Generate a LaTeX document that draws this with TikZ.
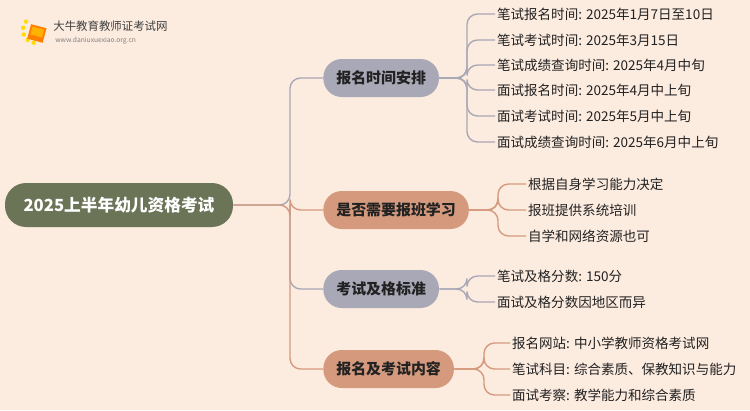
\documentclass[tikz,border=0pt]{standalone}
\usepackage{fontspec}
\setmainfont{Noto Sans CJK SC}
\usetikzlibrary{positioning,calc}
\definecolor{bgc}{HTML}{FCEBDF}
\definecolor{rootc}{HTML}{6B7457}
\definecolor{grayc}{HTML}{A9A8B6}
\definecolor{salc}{HTML}{D59A7E}
\definecolor{txtc}{HTML}{222222}
\begin{document}
\begin{tikzpicture}[x=0.02cm,y=-0.02cm,
  root/.style={rounded corners=12pt,fill=rootc,text=white,font=\fontsize{9.5pt}{11pt}\selectfont\bfseries,minimum width=228*0.02cm,minimum height=44*0.02cm},
  topic/.style={anchor=west,rounded corners=10.5pt,text=txtc,font=\fontsize{8.5pt}{10pt}\selectfont\bfseries,minimum height=38*0.02cm,inner xsep=7.4pt},
  leaf/.style={anchor=west,text=txtc,font=\fontsize{7.7pt}{9pt}\selectfont,inner xsep=1pt},
  link/.style={line width=0.8pt,rounded corners=6pt}]
\fill[bgc] (0,0) rectangle (750,410);
\useasboundingbox (0,0) rectangle (750,410);
% logo
\foreach \a in {100,130,160,190,220}
  \fill[yellow!80!orange] ($(36,30)+(\a:13)$) circle (2.2);
\fill[orange,rotate around={-15:(37,33)}] (29,26) rectangle (45,41);
\fill[orange!60!yellow,rotate around={-15:(37,33)}] (31,28) rectangle (43,36);
\node[anchor=west,font=\fontsize{6.5pt}{7pt}\selectfont,text=black!75,inner sep=0] (logo) at (53,26) {大牛教育教师证考试网};
\node[anchor=west,font=\fontsize{3.8pt}{5pt}\selectfont,text=black!50,inner sep=0] (url) at (55,41) {www.daniuxuexiao.org.cn};
% root and topics
\node[root] (root) at (119,205) {2025上半年幼儿资格考试};
\node[topic,fill=grayc] (t1) at (323,78) {报名时间安排};
\node[topic,fill=salc] (t2) at (323,210) {是否需要报班学习};
\node[topic,fill=grayc] (t3) at (323,289) {考试及格标准};
\node[topic,fill=salc] (t4) at (323,369) {报名及考试内容};
\coordinate (trunk) at (290,205);
\draw[link,draw=grayc] (root.east) -- (trunk) -- (290,78) -- (t1.west);
\draw[link,draw=salc] (root.east) -- (trunk) |- (t2.west);
\draw[link,draw=grayc] (trunk) -- (290,289) -- (t3.west);
\draw[link,draw=salc] (trunk) -- (290,369) -- (t4.west);
% leaves
\foreach \y/\t [count=\i] in {14/笔试报名时间: 2025年1月7日至10日,40/笔试考试时间: 2025年3月15日,
  65/笔试成绩查询时间: 2025年4月中旬,90/面试报名时间: 2025年4月中上旬,
  116/面试考试时间: 2025年5月中上旬,142/面试成绩查询时间: 2025年6月中上旬}{
  \node[leaf] (a\i) at (495,\y) {\t};
  \draw[link,draw=grayc] (t1.east) -- (467,78) |- (a\i.west);}
\foreach \y/\t [count=\i] in {184/根据自身学习能力决定,210/报班提供系统培训,236/自学和网络资源也可}{
  \node[leaf] (b\i) at (526,\y) {\t};
  \draw[link,draw=salc] (t2.east) -- (498,210) |- (b\i.west);}
\foreach \y/\t [count=\i] in {276/笔试及格分数: 150分,302/面试及格分数因地区而异}{
  \node[leaf] (c\i) at (495,\y) {\t};
  \draw[link,draw=grayc] (t3.east) -- (467,289) |- (c\i.west);}
\foreach \y/\t [count=\i] in {343/报名网站: 中小学教师资格考试网,369/笔试科目: 综合素质、保教知识与能力,395/面试考察: 教学能力和综合素质}{
  \node[leaf] (d\i) at (510,\y) {\t};
  \draw[link,draw=salc] (t4.east) -- (484,369) |- (d\i.west);}
\end{tikzpicture}
\end{document}
